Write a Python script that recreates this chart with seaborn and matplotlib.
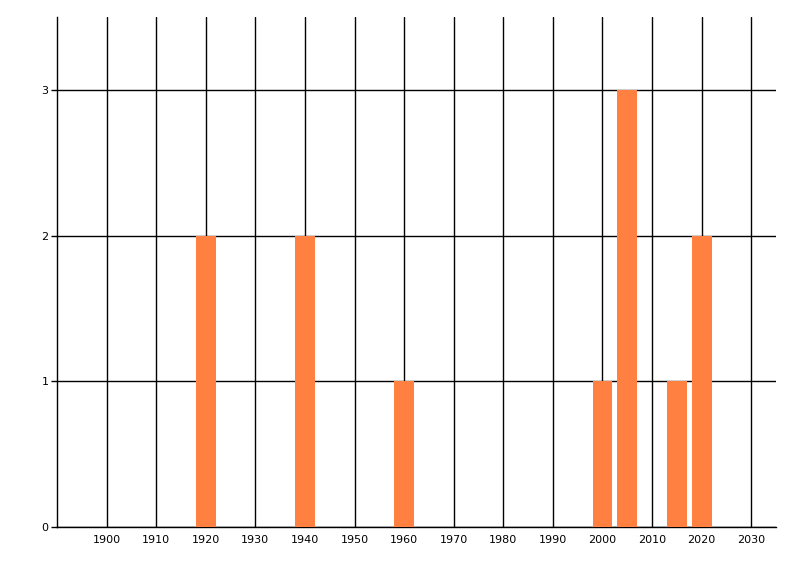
import seaborn as sns
import matplotlib.pyplot as plt
import pandas as pd

years = [1920, 1940, 1960, 2000, 2005, 2015, 2020]
counts = [2, 2, 1, 1, 3, 1, 2]
x_ticks = list(range(1900, 2031, 10))
y_ticks = [0, 1, 2, 3]

df = pd.DataFrame({"year": years, "count": counts})

sns.set_style("white")
plt.rcParams["font.family"] = ["DejaVu Sans"]

fig = plt.figure(figsize=(8, 5.76), dpi=100)
ax = fig.add_axes([57 / 800, 1 - 527 / 576, (776 - 57) / 800, (527 - 17) / 576])

sns.barplot(data=df, x="year", y="count", native_scale=True, width=0.8,
            color="#FF8040", saturation=1, linewidth=0, edgecolor="none",
            ax=ax, zorder=3)

ax.set_xlim(1890, 2035)
ax.set_ylim(0, 3.5)
ax.set_xticks(x_ticks)
ax.set_xticklabels([str(t) for t in x_ticks])
ax.set_yticks(y_ticks)
ax.set_yticklabels([str(t) for t in y_ticks])
ax.grid(True, color="black", linewidth=1.0, zorder=0)
ax.set_axisbelow(True)
for s in ["top", "right"]:
    ax.spines[s].set_visible(False)
for s in ["left", "bottom"]:
    ax.spines[s].set_color("black")
    ax.spines[s].set_linewidth(1.0)
ax.tick_params(axis="x", length=0, pad=6, labelsize=8, colors="black")
ax.tick_params(axis="y", length=4, width=1, pad=2, labelsize=8, colors="black", left=True)
ax.set_xlabel("")
ax.set_ylabel("")

fig.savefig("out.png", dpi=100)
